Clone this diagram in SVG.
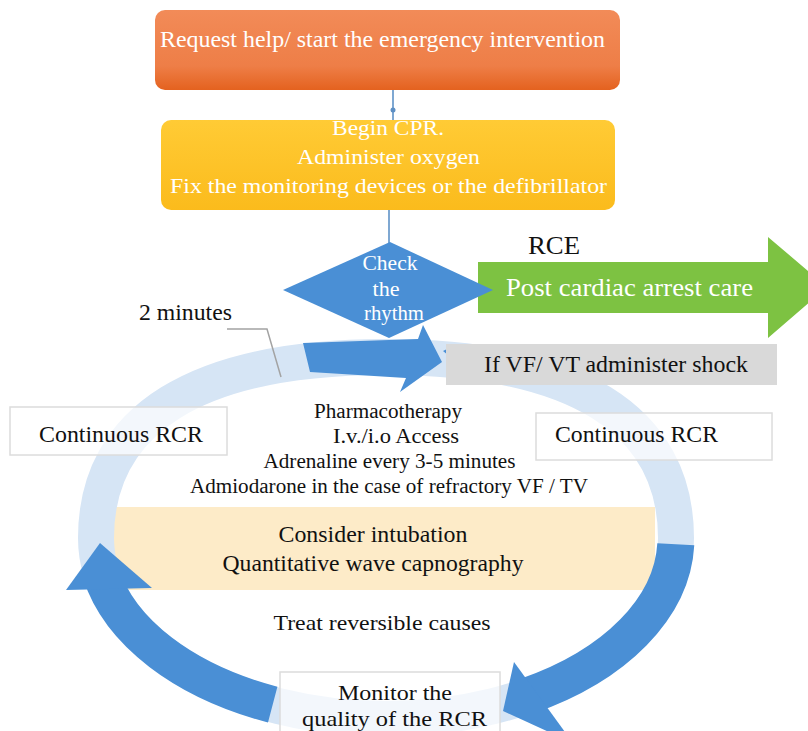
<svg xmlns="http://www.w3.org/2000/svg" width="808" height="731" viewBox="0 0 808 731">
<defs>
  <linearGradient id="gOrange" x1="0" y1="0" x2="0" y2="1">
    <stop offset="0" stop-color="#F28B58"/>
    <stop offset="0.7" stop-color="#EE7E47"/>
    <stop offset="1" stop-color="#E4621F"/>
  </linearGradient>
  <linearGradient id="gYellow" x1="0" y1="0" x2="0" y2="1">
    <stop offset="0" stop-color="#FFCB35"/>
    <stop offset="1" stop-color="#FBBB1C"/>
  </linearGradient>
</defs>
<style>
  text { font-family: "Liberation Serif", "Times New Roman", serif; text-anchor: middle; }
  .w { fill: #ffffff; }
  .k { fill: #111111; }
  .blue { fill: #4A8FD5; }
  .arc { fill: none; stroke: #4A8FD5; stroke-width: 37; }
  .box { fill: #ffffff; fill-opacity: 0.7; stroke: #DCDCDC; stroke-width: 1.5; }
  .conn { stroke: #7FA8D2; stroke-width: 2; fill: none; }
</style>
<rect width="808" height="731" fill="#ffffff"/>

<!-- background band and cycle ring -->
<rect x="113" y="507" width="542" height="83" fill="#FDEBC8"/>
<path d="M 96 538 C 96 419 197.5 357 386 357 C 574.5 357 676 419 676 538 A 290 181 0 0 1 96 538 Z" fill="none" stroke="#D6E5F5" stroke-width="36"/>

<g id="connectors">
  <line class="conn" x1="393" y1="90" x2="393" y2="120"/>
  <circle cx="393" cy="110" r="2.5" fill="#5D8FC4"/>
  <line class="conn" x1="389" y1="210" x2="389" y2="244"/>
  <polyline points="227,329 267,329 281,377" fill="none" stroke="#A3A3A3" stroke-width="1.5"/>
</g>

<!-- cycle arrows -->
<g id="cycle-arrows">
  <path class="arc" d="M 272.7 704.6 A 290 181 0 0 1 100.8 573.2"/>
  <polygon class="blue" points="66,590 152,588 100,543"/>
  <path class="arc" d="M 675.8 544.3 A 290 181 0 0 1 526.6 696.3"/>
  <polygon class="blue" points="514,662 503,711 573,743"/>
  <polygon class="blue" points="303,343 418,339 423,325 442,362 400,392 406,378 310,372"/>
  <polygon class="blue" points="443,351 453,346 470,373"/>
</g>

<g id="continuous-left">
  <rect class="box" x="10" y="407" width="217" height="48"/>
  <text class="k" x="121" y="442" font-size="23" textLength="164" lengthAdjust="spacingAndGlyphs">Continuous RCR</text>
</g>
<g id="continuous-right">
  <rect class="box" x="536" y="413" width="236" height="47"/>
  <text class="k" x="636.5" y="442" font-size="23" textLength="163" lengthAdjust="spacingAndGlyphs">Continuous RCR</text>
</g>
<g id="monitor">
  <rect class="box" x="280" y="672" width="220" height="70" fill-opacity="0.45"/>
  <text class="k" x="395" y="700" font-size="22" textLength="114" lengthAdjust="spacingAndGlyphs">Monitor the</text>
  <text class="k" x="394.5" y="726" font-size="22" textLength="185" lengthAdjust="spacingAndGlyphs">quality of the RCR</text>
</g>

<g id="request-help">
  <rect x="155" y="10" width="465" height="80" rx="10" fill="url(#gOrange)"/>
  <text class="w" x="382.5" y="47" font-size="23" textLength="445" lengthAdjust="spacingAndGlyphs">Request help/ start the emergency intervention</text>
</g>

<g id="begin-cpr">
  <rect x="161" y="120" width="454" height="90" rx="10" fill="url(#gYellow)"/>
  <text class="w" x="388" y="135" font-size="22" textLength="112" lengthAdjust="spacingAndGlyphs">Begin CPR.</text>
  <text class="w" x="388.5" y="164" font-size="22" textLength="183" lengthAdjust="spacingAndGlyphs">Administer oxygen</text>
  <text class="w" x="388.5" y="193" font-size="22" textLength="437" lengthAdjust="spacingAndGlyphs">Fix the monitoring devices or the defibrillator</text>
</g>

<g id="post-care">
  <polygon fill="#7DC242" points="478,262 768,262 768,237 827,287 768,338 768,313 478,313"/>
  <text class="w" x="629.5" y="296" font-size="25" textLength="247" lengthAdjust="spacingAndGlyphs">Post cardiac arrest care</text>
</g>
<g id="rce-label">
  <text class="k" x="554" y="254" font-size="25" textLength="52" lengthAdjust="spacingAndGlyphs">RCE</text>
</g>

<g id="check-rhythm">
  <polygon class="blue" points="283,290 390,242 493,290 389,338"/>
  <text class="w" x="390" y="270" font-size="20" textLength="55" lengthAdjust="spacingAndGlyphs">Check</text>
  <text class="w" x="386" y="296" font-size="20" textLength="27" lengthAdjust="spacingAndGlyphs">the</text>
  <text class="w" x="394" y="320" font-size="20" textLength="60" lengthAdjust="spacingAndGlyphs">rhythm</text>
</g>

<g id="shock">
  <rect x="446" y="344" width="331" height="41" fill="#D9D9D9"/>
  <text class="k" x="616" y="372" font-size="23" textLength="264" lengthAdjust="spacingAndGlyphs">If VF/ VT administer shock</text>
</g>

<g id="two-minutes">
  <text class="k" x="185.5" y="320" font-size="23" textLength="93" lengthAdjust="spacingAndGlyphs">2 minutes</text>
</g>

<g id="pharmacotherapy">
  <text class="k" x="388" y="418" font-size="20" textLength="148" lengthAdjust="spacingAndGlyphs">Pharmacotherapy</text>
  <text class="k" x="396" y="443" font-size="20" textLength="126" lengthAdjust="spacingAndGlyphs">I.v./i.o Access</text>
  <text class="k" x="389.5" y="468" font-size="20" textLength="252" lengthAdjust="spacingAndGlyphs">Adrenaline every 3-5 minutes</text>
  <text class="k" x="389" y="493" font-size="20" textLength="398" lengthAdjust="spacingAndGlyphs">Admiodarone in the case of refractory VF / TV</text>
</g>

<g id="intubation">
  <text class="k" x="373" y="542" font-size="23" textLength="189" lengthAdjust="spacingAndGlyphs">Consider intubation</text>
  <text class="k" x="373" y="571" font-size="23" textLength="301" lengthAdjust="spacingAndGlyphs">Quantitative wave capnography</text>
</g>

<g id="reversible">
  <text class="k" x="382" y="630" font-size="22" textLength="217" lengthAdjust="spacingAndGlyphs">Treat reversible causes</text>
</g>
</svg>
